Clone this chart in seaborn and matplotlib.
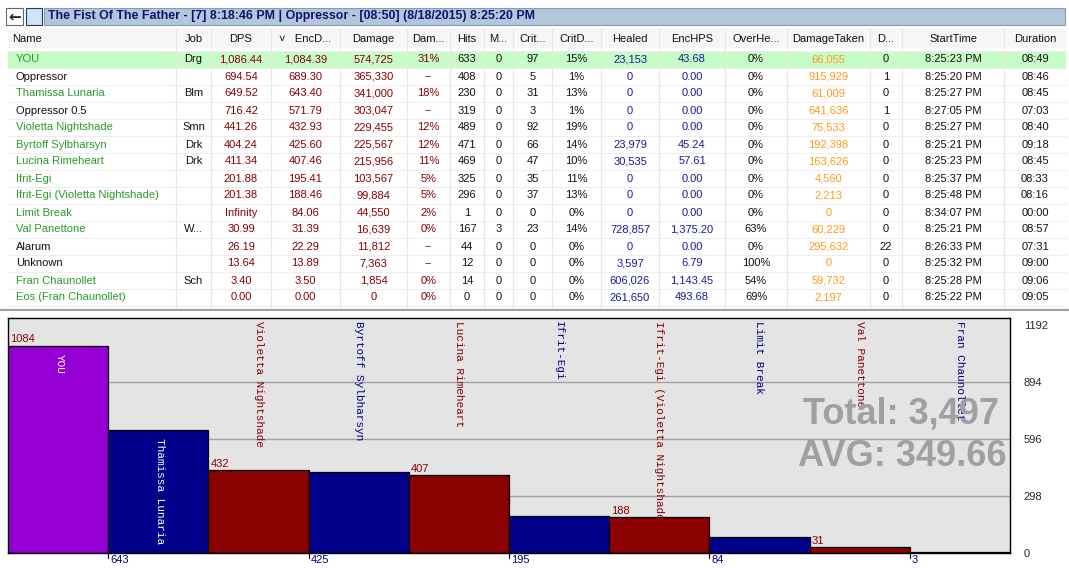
import matplotlib
matplotlib.use("Agg")
import matplotlib.pyplot as plt
import seaborn as sns
import pandas as pd
from matplotlib.patches import Rectangle

# ── Data ──────────────────────────────────────────────────────────────────────
TITLE = "The Fist Of The Father - [7] 8:18:46 PM | Oppressor - [08:50] (8/18/2015) 8:25:20 PM"
HEADERS = ["Name", "Job", "DPS", "\u02c5   EncD...", "Damage", "Dam...", "Hits", "M...", "Crit...",
           "CritD...", "Healed", "EncHPS", "OverHe...", "DamageTaken", "D...", "StartTime", "Duration"]
names = ["YOU", "Oppressor", "Thamissa Lunaria", "Oppressor 0.5", "Violetta Nightshade",
         "Byrtoff Sylbharsyn", "Lucina Rimeheart", "Ifrit-Egi", "Ifrit-Egi (Violetta Nightshade)",
         "Limit Break", "Val Panettone", "Alarum", "Unknown", "Fran Chaunollet", "Eos (Fran Chaunollet)"]
is_ally = [1, 0, 1, 0, 1, 1, 1, 1, 1, 1, 1, 0, 0, 1, 1]
job = ["Drg", "", "Blm", "", "Smn", "Drk", "Drk", "", "", "", "W...", "", "", "Sch", ""]
dps = ["1,086.44", "694.54", "649.52", "716.42", "441.26", "404.24", "411.34", "201.88", "201.38",
       "Infinity", "30.99", "26.19", "13.64", "3.40", "0.00"]
encdps = ["1,084.39", "689.30", "643.40", "571.79", "432.93", "425.60", "407.46", "195.41", "188.46",
          "84.06", "31.39", "22.29", "13.89", "3.50", "0.00"]
damage = ["574,725", "365,330", "341,000", "303,047", "229,455", "225,567", "215,956", "103,567",
          "99,884", "44,550", "16,639", "11,812", "7,363", "1,854", "0"]
dam_pct = ["31%", "--", "18%", "--", "12%", "12%", "11%", "5%", "5%", "2%", "0%", "--", "--", "0%", "0%"]
hits = ["633", "408", "230", "319", "489", "471", "469", "325", "296", "1", "167", "44", "12", "14", "0"]
misses = ["0", "0", "0", "0", "0", "0", "0", "0", "0", "0", "3", "0", "0", "0", "0"]
crits = ["97", "5", "31", "3", "92", "66", "47", "35", "37", "0", "23", "0", "0", "0", "0"]
crit_pct = ["15%", "1%", "13%", "1%", "19%", "14%", "10%", "11%", "13%", "0%", "14%", "0%", "0%", "0%", "0%"]
healed = ["23,153", "0", "0", "0", "0", "23,979", "30,535", "0", "0", "0", "728,857", "0", "3,597",
          "606,026", "261,650"]
enchps = ["43.68", "0.00", "0.00", "0.00", "0.00", "45.24", "57.61", "0.00", "0.00", "0.00",
          "1,375.20", "0.00", "6.79", "1,143.45", "493.68"]
overheal = ["0%", "0%", "0%", "0%", "0%", "0%", "0%", "0%", "0%", "0%", "63%", "0%", "100%", "54%", "69%"]
dmg_taken = ["66,055", "915,929", "61,009", "641,636", "75,533", "192,398", "163,626", "4,560",
             "2,213", "0", "60,229", "295,632", "0", "59,732", "2,197"]
deaths = ["0", "1", "0", "1", "0", "0", "0", "0", "0", "0", "0", "22", "0", "0", "0"]
start = ["8:25:23 PM", "8:25:20 PM", "8:25:27 PM", "8:27:05 PM", "8:25:27 PM", "8:25:21 PM",
         "8:25:23 PM", "8:25:37 PM", "8:25:48 PM", "8:34:07 PM", "8:25:21 PM", "8:26:33 PM",
         "8:25:32 PM", "8:25:28 PM", "8:25:22 PM"]
duration = ["08:49", "08:46", "08:45", "07:03", "08:40", "09:18", "08:45", "08:33", "08:16",
            "00:00", "08:57", "07:31", "09:00", "09:06", "09:05"]

bar_names = ["YOU", "Thamissa Lunaria", "Violetta Nightshade", "Byrtoff Sylbharsyn", "Lucina Rimeheart",
             "Ifrit-Egi", "Ifrit-Egi (Violetta Nightshade)", "Limit Break", "Val Panettone", "Fran Chaunollet"]
bar_values = [1084, 643, 432, 425, 407, 195, 188, 84, 31, 3]
y_ticks = [0, 298, 596, 894, 1192]
TOTAL_TEXT = "Total: 3,497"
AVG_TEXT = "AVG: 349.66"

# ── Style ─────────────────────────────────────────────────────────────────────
sns.set_theme(style="white")
plt.rcParams["font.family"] = ["Liberation Sans", "DejaVu Sans"]
GREEN, DRED, NAVY, ORANGE = "#2a9a2a", "#8b0000", "#1a1a9a", "#ff9a1a"
BAR_COLORS = ["#9400d3"] + ["#00008b" if i % 2 else "#8b0000" for i in range(1, 10)]

W, H = 1069, 568
fig = plt.figure(figsize=(W / 100, H / 100), dpi=100, facecolor="white")

# full-figure pixel axes for the table
bg = fig.add_axes([0, 0, 1, 1])
bg.set_xlim(0, W)
bg.set_ylim(H, 0)
bg.axis("off")

# title bar
bg.add_patch(Rectangle((44, 8), 1021, 17, facecolor="#b4c6dc", edgecolor="#8a9ab0", lw=0.8))
bg.add_patch(Rectangle((6, 8), 17, 17, facecolor="white", edgecolor="#666", lw=0.8))
bg.add_patch(Rectangle((26, 8), 16, 17, facecolor="#cfe4f4", edgecolor="#336", lw=0.8))
bg.text(14.5, 16.5, "\u2190", ha="center", va="center", fontsize=11, weight="bold",
        family="DejaVu Sans")
bg.text(48, 16.5, TITLE, ha="left", va="center", fontsize=8.9, weight="bold", color="#101070")

# column geometry
seps = [8, 176, 211, 271, 340, 407, 450, 484, 513, 552, 601, 659, 725, 787, 870, 902, 1004, 1066]
cols = [names, job, dps, encdps, damage, dam_pct, hits, misses, crits, crit_pct, healed, enchps,
        overheal, dmg_taken, deaths, start, duration]
col_colors = [None, "#111", DRED, DRED, DRED, DRED, "#111", "#111", "#111", "#111", NAVY, NAVY,
              "#111", ORANGE, "#111", "#111", "#111"]

bg.add_patch(Rectangle((8, 29), 1058, 19, facecolor="#f6f6f6", edgecolor="none"))
bg.add_patch(Rectangle((8, 51), 1058, 17, facecolor="#c6fcc6", edgecolor="none"))
for x in seps[1:-1]:
    bg.plot([x, x], [29, 308], color="#e6e6e6", lw=0.8)
for r in range(len(names) + 1):
    y = 51 + 17 * r
    bg.plot([8, 1066], [y, y], color="#eeeeee", lw=0.8)

for c, head in enumerate(HEADERS):
    if c == 0:
        bg.text(12, 39, head, ha="left", va="center", fontsize=8, color="#111")
    else:
        bg.text((seps[c] + seps[c + 1]) / 2, 39, head, ha="center", va="center", fontsize=8,
                color="#111")

for r in range(len(names)):
    y = 59.5 + 17 * r
    for c, col in enumerate(cols):
        if c == 0:
            bg.text(16, y, col[r], ha="left", va="center", fontsize=8,
                    color=GREEN if is_ally[r] else "#111")
        else:
            bg.text((seps[c] + seps[c + 1]) / 2, y, col[r], ha="center", va="center",
                    fontsize=8, color=col_colors[c])

bg.plot([0, W], [310, 310], color="#a0a0a0", lw=1.5)

# ── Bar chart ────────────────────────────────────────────────────────────────
ax = fig.add_axes([8 / W, 1 - 553 / H, 1002 / W, 235 / H])
df = pd.DataFrame({"name": bar_names, "value": bar_values})
sns.barplot(data=df, x="name", y="value", hue="name", palette=BAR_COLORS, legend=False,
            width=1.0, edgecolor="black", linewidth=0.9, saturation=1, ax=ax)
ax.set_facecolor("#e4e4e4")
ax.set_xlim(-0.5, len(bar_names) - 0.5)
ax.set_ylim(0, 1230)
for t in y_ticks[1:-1]:
    ax.axhline(t, color="#a0a0a0", lw=1, zorder=0)
ax.set_axisbelow(True)
ax.yaxis.tick_right()
ax.set_yticks(y_ticks)
ax.set_yticklabels([str(t) for t in y_ticks], fontsize=8)
ax.tick_params(axis="y", length=0, pad=10)
ax.set_xticks([])
ax.set_xlabel("")
ax.set_ylabel("")
for s in ax.spines.values():
    s.set_color("black")
    s.set_linewidth(1)

mono = "Liberation Mono"
for i, (nm, v) in enumerate(zip(bar_names, bar_values)):
    left = i - 0.5
    if i % 2 == 0:
        ax.text(left + 0.02, v + 8, str(v), ha="left", va="bottom", fontsize=8, color="#8b0000")
    else:
        ax.text(left + 0.02, -8, str(v), ha="left", va="top", fontsize=8, color="#00008b",
                clip_on=False)
        ax.plot([left, left], [0, -25], color="black", lw=0.8, clip_on=False)
    if v > 600:
        ax.text(i + 0.02, v - 40, nm, rotation=-90, ha="center", va="top", fontsize=8,
                family=mono, color="white")
    else:
        ax.text(i, 1215, nm, rotation=-90, ha="center", va="top", fontsize=8, family=mono,
                color=BAR_COLORS[i])

ax.text(0.989, 0.593, TOTAL_TEXT, transform=ax.transAxes, ha="right", va="center",
        fontsize=26, weight="bold", color="#a0a0a0")
ax.text(0.997, 0.41, AVG_TEXT, transform=ax.transAxes, ha="right", va="center",
        fontsize=26, weight="bold", color="#a0a0a0")

fig.savefig("out.png", dpi=100, facecolor="white")
